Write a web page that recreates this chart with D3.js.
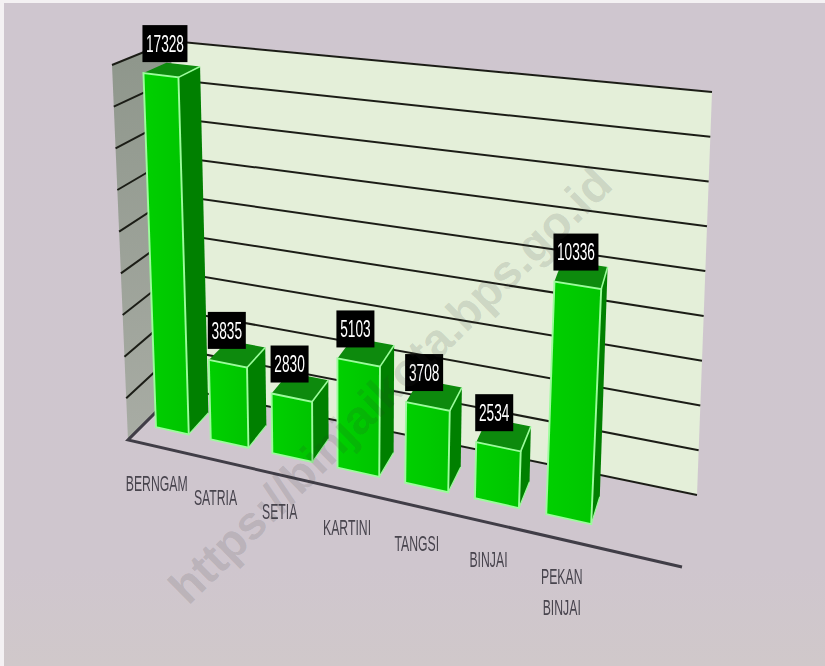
<!DOCTYPE html>
<html lang="en">
<head>
  <meta charset="UTF-8">
  <title>Kecamatan Binjai</title>
  <script src="https://d3js.org/d3.v7.min.js"></script>
  <style>
    html, body { margin: 0; padding: 0; background: #f4f1f3; }
    svg { display: block; }
    .cat { font-family: "Liberation Sans Narrow", "Liberation Sans", sans-serif; font-size: 18px; fill: #48444e; }
    .val { font-family: "Liberation Sans Narrow", "Liberation Sans", sans-serif; font-size: 19px; fill: #fff; }
    .mark { font-family: "Liberation Sans", sans-serif; font-weight: bold; font-size: 47px; fill: #333; fill-opacity: 0.15; }
  </style>
</head>
<body>
<svg width="825" height="666"></svg>
<script>
  const categories = ["BERNGAM", "SATRIA", "SETIA", "KARTINI", "TANGSI", "BINJAI", "PEKAN BINJAI"];
  const values = [17328, 3835, 2830, 5103, 3708, 2534, 10336];
  const maxValue = 18000;

  const svg = d3.select("svg");

  // corners of the 3d box on screen
  const floorFL = [128, 440], floorFR = [682, 567], floorBL = [180, 388], floorBR = [697, 495];
  const topFL = [112, 65], topFR = [710, 142], topBL = [171, 41], topBR = [712, 92];

  const mix = (a, b, t) => [a[0] + (b[0] - a[0]) * t, a[1] + (b[1] - a[1]) * t];

  const yScale = d3.scaleLinear().domain([0, maxValue]).range([0, 1]);
  const band = d3.scaleBand().domain(categories).range([0, 1]).paddingInner(0.38).paddingOuter(0.19);
  // bars get wider and further apart toward the viewer
  const warp = d3.scalePow().exponent(1.12).domain([0, 1]).range([0.008, 0.85]);

  // s along the axis, v into the depth, w up the wall
  function project(s, v, w) {
    const floor = mix(mix(floorFL, floorFR, s), mix(floorBL, floorBR, s), v);
    const top = mix(mix(topFL, topFR, s), mix(topBL, topBR, s), v);
    return mix(floor, top, w);
  }

  const poly = d3.line();
  const closed = pts => poly(pts) + "Z";

  const defs = svg.append("defs");
  const bg = defs.append("linearGradient").attr("id", "bg").attr("x2", 0).attr("y2", 1);
  bg.append("stop").attr("offset", 0).attr("stop-color", "#cfc6cf");
  bg.append("stop").attr("offset", 0.85).attr("stop-color", "#cfc6ce");
  bg.append("stop").attr("offset", 1).attr("stop-color", "#d0c8ca");
  const side = defs.append("linearGradient").attr("id", "leftwall").attr("x2", 0).attr("y2", 1);
  side.append("stop").attr("offset", 0).attr("stop-color", "#8e968b");
  side.append("stop").attr("offset", 1).attr("stop-color", "#a8aca4");
  const face = defs.append("linearGradient").attr("id", "face");
  face.append("stop").attr("offset", 0).attr("stop-color", "#04d004");
  face.append("stop").attr("offset", 1).attr("stop-color", "#00c400");
  defs.append("filter").attr("id", "soft").append("feGaussianBlur").attr("stdDeviation", 0.45);

  svg.append("rect").attr("x", 4).attr("y", 3).attr("width", 821).attr("height", 663).attr("fill", "url(#bg)");

  const chart = svg.append("g").attr("filter", "url(#soft)");

  // walls
  chart.append("path").attr("d", closed([topFL, topBL, floorBL, floorFL])).attr("fill", "url(#leftwall)");
  chart.append("path").attr("d", closed([topBL, topBR, floorBR, floorBL])).attr("fill", "#e4efd9");

  // gridlines run along the left wall and the back wall
  const grid = chart.append("g").attr("fill", "none").attr("stroke", "#1c1f18").attr("stroke-width", 2);
  yScale.ticks(9).forEach(t => {
    const w = yScale(t);
    grid.append("path").attr("d", poly([project(0, 0, w), project(0, 1, w), project(1, 1, w)]));
  });

  // floor edges
  chart.append("path").attr("d", poly([floorBL, floorFL, floorFR]))
    .attr("fill", "none").attr("stroke", "#413e46").attr("stroke-width", 3);

  // bars
  const vFront = 0.3, vBack = 0.7;
  const edge = "#9cfc9c";
  const bars = chart.selectAll("g.bar").data(categories.map((c, i) => ({ c, v: values[i] }))).join("g").attr("class", "bar");
  const sLeft = d => warp(band(d.c));
  const sRight = d => warp(band(d.c) + band.bandwidth());

  bars.append("path").attr("fill", "#0a8a0a").attr("d", d => {
    const w = yScale(d.v);
    return closed([project(sLeft(d), vFront, w), project(sRight(d), vFront, w), project(sRight(d), vBack, w), project(sLeft(d), vBack, w)]);
  });
  bars.append("path").attr("fill", "#038003").attr("d", d => {
    const w = yScale(d.v);
    return closed([project(sRight(d), vFront, 0), project(sRight(d), vFront, w), project(sRight(d), vBack, w), project(sRight(d), vBack, 0)]);
  });
  bars.append("path").attr("fill", "url(#face)").attr("stroke", edge).attr("stroke-width", 1.9).attr("d", d => {
    const w = yScale(d.v);
    return closed([project(sLeft(d), vFront, 0), project(sRight(d), vFront, 0), project(sRight(d), vFront, w), project(sLeft(d), vFront, w)]);
  });
  // light edge running back off the top corner
  bars.append("path").attr("fill", "none").attr("stroke", edge).attr("stroke-width", 1.6).attr("d", d => {
    const w = yScale(d.v);
    return poly([project(sRight(d), vFront, w), project(sRight(d), vBack, w)]);
  });
  bars.append("path").attr("fill", "none").attr("stroke", edge).attr("stroke-width", 1.2).attr("d", d => {
    return poly([project(sRight(d), vFront, 0), project(sRight(d), vBack, 0)]);
  });

  // category labels hang below the front floor edge
  const labelDrop = 37;
  svg.selectAll("g.cat").data(categories).join("g").attr("class", "cat").each(function (c) {
    const s = warp(band(c) + band.bandwidth() / 2);
    const p = project(s, 0, 0);
    const lines = c === "PEKAN BINJAI" ? c.split(" ") : [c];
    lines.forEach((t, i) => {
      d3.select(this).append("text")
        .attr("text-anchor", "middle")
        .attr("transform", `translate(${p[0]},${p[1] + labelDrop + i * 31}) scale(0.68,1.2)`)
        .attr("dy", ".35em")
        .attr("filter", "url(#soft)")
        .text(t);
    });
  });

  // value boxes sit on the top front corner of each bar
  const labels = svg.selectAll("g.val").data(categories.map((c, i) => ({ c, v: values[i] }))).join("g").attr("class", "val");
  labels.each(function (d) {
    const p = project(sLeft(d), vFront, yScale(d.v));
    const g = d3.select(this).attr("transform", `translate(${p[0] - 1},${p[1] - 11})`);
    const boxW = String(d.v).length > 4 ? 45 : 38;
    g.append("rect").attr("x", 0).attr("y", -37).attr("width", boxW).attr("height", 37).attr("fill", "#000");
    g.append("text").attr("text-anchor", "middle")
      .attr("transform", `translate(${boxW / 2},-18.5) scale(0.72,1.25)`)
      .attr("dy", ".35em")
      .attr("filter", "url(#soft)")
      .text(d.v);
  });

  // watermark
  svg.append("text").attr("class", "mark")
    .attr("text-anchor", "middle")
    .attr("transform", "translate(390,385) rotate(-44.5)")
    .attr("dy", ".35em")
    .text("https://binjaikota.bps.go.id");
</script>
</body>
</html>
